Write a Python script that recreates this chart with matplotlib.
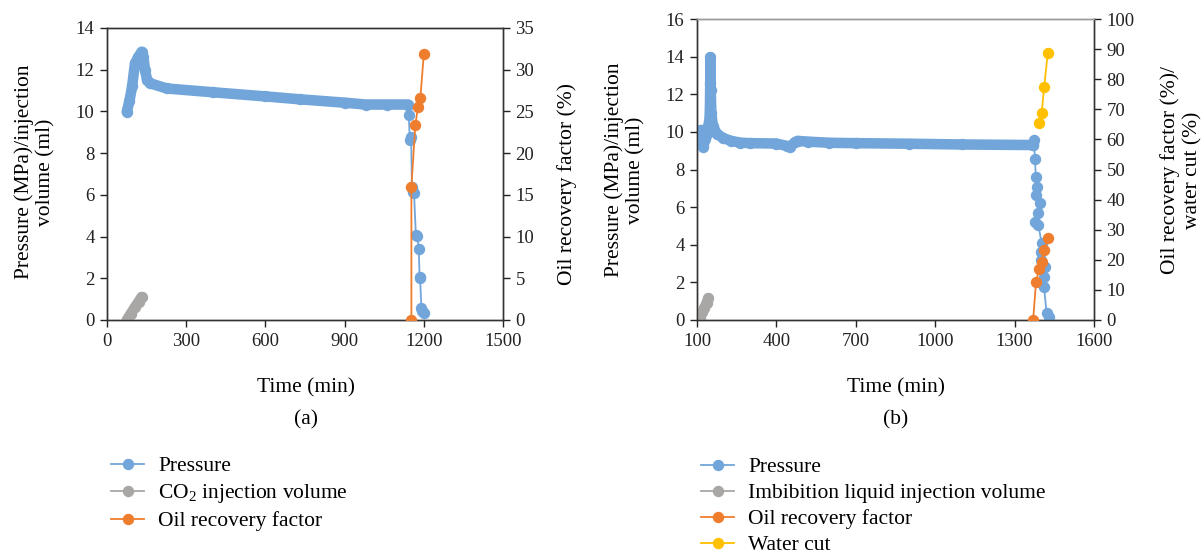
import matplotlib
matplotlib.use("Agg")
import matplotlib.pyplot as plt
from matplotlib.lines import Line2D

plt.rcParams['font.family'] = 'serif'
plt.rcParams['font.serif'] = ['Liberation Serif', 'DejaVu Serif']
plt.rcParams['font.size'] = 13
plt.rcParams['mathtext.default'] = 'regular'

BLUE = '#72A6DA'
GRAY = '#A9A7A6'
ORANGE = '#EF7D2E'
YELLOW = '#FFC000'

# ---------------- Panel (a) data ----------------
a_press_dense_t = [75, 85, 95, 106, 118, 131, 138, 144, 152, 163, 226, 400, 600, 732, 900, 980, 1060, 1140]
a_press_dense_v = [9.99, 10.5, 11.2, 12.3, 12.6, 12.86, 12.6, 11.98, 11.5, 11.35, 11.1, 10.92, 10.72, 10.58, 10.42, 10.33, 10.33, 10.33]
a_press_t = [1140, 1143, 1147, 1152, 1155, 1160, 1163, 1170, 1176, 1181, 1184, 1186, 1191, 1194, 1200]
a_press_v = [10.33, 9.83, 8.62, 8.78, 6.39, 6.12, 6.07, 4.07, 4.05, 3.39, 2.05, 2.0, 0.56, 0.42, 0.32]
a_co2_t = [75, 90, 105, 120, 131]
a_co2_v = [0.0, 0.3, 0.6, 0.88, 1.1]
a_orf_t = [1153, 1153, 1168, 1178, 1187, 1200]
a_orf_v = [0.0, 16.0, 23.4, 25.5, 26.6, 31.9]

# ---------------- Panel (b) data ----------------
b_press_dense_t = [112, 116, 120, 124, 130, 138, 143, 147, 149, 150, 151, 152, 154, 160, 175, 200, 230, 262, 300, 400, 440, 450, 470, 480, 520, 600, 700, 900, 1100, 1370]
b_press_dense_v = [9.9, 10.1, 9.4, 9.2, 9.6, 9.9, 10.3, 10.6, 11.3, 12.6, 13.97, 12.2, 11.0, 10.3, 9.9, 9.66, 9.52, 9.43, 9.40, 9.38, 9.25, 9.2, 9.45, 9.52, 9.48, 9.42, 9.40, 9.37, 9.33, 9.30]
b_press_t = [1370, 1373, 1377, 1380, 1383, 1380, 1396, 1388, 1377, 1390, 1402, 1400, 1398, 1415, 1411, 1411, 1421, 1431]
b_press_v = [9.30, 9.57, 8.54, 7.62, 7.09, 6.65, 6.2, 5.67, 5.23, 5.05, 4.08, 3.63, 3.19, 2.83, 2.30, 1.77, 0.36, 0.18]
b_imb_t = [111, 120, 128, 136, 143]
b_imb_v = [0.09, 0.4, 0.65, 0.9, 1.15]
b_orf_t = [1370, 1381, 1392, 1402, 1411, 1425]
b_orf_v = [0.0, 12.7, 16.8, 19.4, 23.3, 27.1]
b_wc_t = [1392, 1402, 1412, 1425]
b_wc_v = [65.3, 68.7, 77.5, 88.6]

a_xticks = [0, 300, 600, 900, 1200, 1500]
b_xticks = [100, 400, 700, 1000, 1300, 1600]

MS = 7.2
THICK = 7.6
LAB = 15.5
TICK = 13.5

W, H = 1204, 554
fig = plt.figure(figsize=(W/100, H/100), dpi=100)

def style(ax):
    for s in ax.spines.values():
        s.set_color('#333333')
        s.set_linewidth(1.0)
    ax.tick_params(direction='out', length=5, width=1.0, colors='#222222', labelsize=TICK, pad=4)

def dense(ax, t, v, color):
    ax.plot(t, v, color=color, lw=THICK, solid_capstyle='round', solid_joinstyle='round', zorder=3)
    ax.plot(t, v, 'o', color=color, ms=MS, zorder=3)

def sparse(ax, t, v, color):
    ax.plot(t, v, '-o', color=color, lw=1.3, ms=MS, zorder=4)

def ftext(x, y, s, **kw):
    fig.text(x/W, 1-y/H, s, ha='center', va='center', fontsize=LAB, **kw)

# ---- (a)
axa = fig.add_axes([107/W, 1-320/H, 396/W, 292/H])
axa2 = axa.twinx()
dense(axa, a_press_dense_t, a_press_dense_v, BLUE)
sparse(axa, a_press_t, a_press_v, BLUE)
dense(axa, a_co2_t, a_co2_v, GRAY)
sparse(axa2, a_orf_t, a_orf_v, ORANGE)
axa.set_xlim(0, 1500); axa.set_xticks(a_xticks)
axa.set_ylim(0, 14); axa.set_yticks(range(0, 15, 2))
axa2.set_ylim(0, 35); axa2.set_yticks(range(0, 36, 5))
for ax in (axa, axa2):
    style(ax)
ftext(35, 172, 'Pressure (MPa)/injection\nvolume (ml)', rotation=90, linespacing=1.2)
ftext(567, 184, 'Oil recovery factor (%)', rotation=90)
ftext(306, 388, 'Time (min)')
ftext(306, 420, '(a)')

# ---- (b)
axb = fig.add_axes([697/W, 1-320/H, 397/W, 301/H])
axb2 = axb.twinx()
dense(axb, b_press_dense_t, b_press_dense_v, BLUE)
sparse(axb, b_press_t, b_press_v, BLUE)
dense(axb, b_imb_t, b_imb_v, GRAY)
sparse(axb2, b_orf_t, b_orf_v, ORANGE)
sparse(axb2, b_wc_t, b_wc_v, YELLOW)
axb.set_xlim(100, 1600); axb.set_xticks(b_xticks)
axb.set_ylim(0, 16); axb.set_yticks(range(0, 17, 2))
axb2.set_ylim(0, 100); axb2.set_yticks(range(0, 101, 10))
for ax in (axb, axb2):
    style(ax)
axb.spines['top'].set_color('#999999')
axb2.spines['top'].set_color('#999999')
ftext(625, 170, 'Pressure (MPa)/injection\nvolume (ml)', rotation=90, linespacing=1.2)
ftext(1181, 170, 'Oil recovery factor (%)/\nwater cut (%)', rotation=90, linespacing=1.2)
ftext(896, 388, 'Time (min)')
ftext(896, 420, '(b)')

def h(color):
    return Line2D([], [], color=color, marker='o', ms=MS, lw=1.3)

leg_kw = dict(loc='upper left', frameon=False, fontsize=LAB, handlelength=1.55,
              handletextpad=0.65, labelspacing=0.28, borderpad=0, borderaxespad=0)
fig.legend([h(BLUE), h(GRAY), h(ORANGE)],
           ['Pressure', 'CO$_2$ injection volume', 'Oil recovery factor'],
           bbox_to_anchor=(111/W, 1-456/H), **leg_kw)
fig.legend([h(BLUE), h(GRAY), h(ORANGE), h(YELLOW)],
           ['Pressure', 'Imbibition liquid injection volume', 'Oil recovery factor', 'Water cut'],
           bbox_to_anchor=(701/W, 1-457/H), **leg_kw)

fig.savefig('out.png', dpi=100)
